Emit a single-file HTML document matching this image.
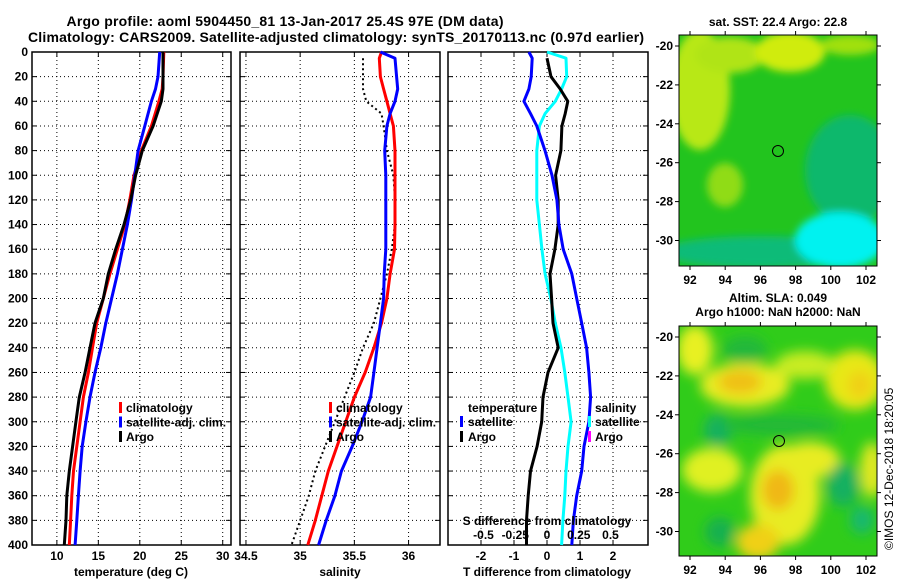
<!DOCTYPE html>
<html><head><meta charset="utf-8"><style>
body{margin:0;background:#fff;}
svg{display:block;font-family:"Liberation Sans",sans-serif;font-weight:bold;}
</style></head><body>
<svg id="c" width="900" height="580" viewBox="0 0 900 580">
<defs>
<filter id="bl" x="-50%" y="-50%" width="200%" height="200%"><feGaussianBlur stdDeviation="6"/></filter>
<filter id="bl2" x="-50%" y="-50%" width="200%" height="200%"><feGaussianBlur stdDeviation="4"/></filter>
<clipPath id="m1"><rect x="679" y="35" width="198" height="231"/></clipPath>
<clipPath id="m2"><rect x="679" y="326" width="198" height="230"/></clipPath>
</defs>
<text x="285" y="26" font-size="14" text-anchor="middle" textLength="437">Argo profile: aoml 5904450_81 13-Jan-2017 25.4S 97E (DM data)</text>
<text x="336" y="42" font-size="14" text-anchor="middle" textLength="616">Climatology: CARS2009. Satellite-adjusted climatology: synTS_20170113.nc (0.97d earlier)</text>

<g clip-path="url(#m1)">
<rect x="679" y="35" width="198" height="231" fill="#22c41e"/>
<g filter="url(#bl2)">
<ellipse cx="700" cy="90" rx="30" ry="60" fill="#b8e818"/>
<ellipse cx="730" cy="55" rx="35" ry="18" fill="#b0e418"/>
<ellipse cx="790" cy="52" rx="35" ry="20" fill="#d0ec10"/>
<ellipse cx="850" cy="45" rx="30" ry="10" fill="#a0e010"/>
<ellipse cx="725" cy="185" rx="18" ry="22" fill="#90dc18"/>
<ellipse cx="850" cy="170" rx="45" ry="55" fill="#10b86c"/>
<ellipse cx="760" cy="252" rx="100" ry="16" fill="#10bb78"/>
<ellipse cx="840" cy="240" rx="45" ry="28" fill="#00f2f0"/>
</g>
<circle cx="778" cy="151" r="5.5" fill="none" stroke="#000" stroke-width="1"/>
</g>
<rect x="679" y="35" width="198" height="231" fill="none" stroke="#000"/>
<text x="778" y="26" font-size="12" text-anchor="middle">sat. SST: 22.4 Argo: 22.8</text>
<text x="778" y="302" font-size="12" text-anchor="middle">Altim. SLA: 0.049</text>
<text x="778" y="316" font-size="12" text-anchor="middle">Argo h1000: NaN h2000: NaN</text>

<g clip-path="url(#m2)">
<rect x="679" y="326" width="198" height="230" fill="#30cc1a"/>
<g filter="url(#bl)">
<ellipse cx="695" cy="350" rx="18" ry="25" fill="#e8f020"/>
<ellipse cx="745" cy="385" rx="45" ry="22" fill="#e8ec20"/>
<ellipse cx="740" cy="382" rx="22" ry="12" fill="#f0c018"/>
<ellipse cx="855" cy="380" rx="30" ry="30" fill="#e8e818"/>
<ellipse cx="860" cy="385" rx="12" ry="14" fill="#f0d018"/>
<ellipse cx="805" cy="365" rx="30" ry="14" fill="#c8ec20"/>
<ellipse cx="785" cy="495" rx="35" ry="50" fill="#e8ec20"/>
<ellipse cx="778" cy="490" rx="16" ry="20" fill="#f0b818"/>
<ellipse cx="810" cy="460" rx="30" ry="18" fill="#e8ec20"/>
<ellipse cx="712" cy="470" rx="30" ry="22" fill="#e0f020"/>
<ellipse cx="758" cy="542" rx="22" ry="18" fill="#f0d018"/>
<ellipse cx="872" cy="470" rx="12" ry="28" fill="#e0e820"/>
<ellipse cx="718" cy="430" rx="14" ry="16" fill="#18b060"/>
<ellipse cx="843" cy="485" rx="16" ry="22" fill="#18b060"/>
<ellipse cx="862" cy="520" rx="12" ry="14" fill="#18b870"/>
<ellipse cx="720" cy="532" rx="15" ry="15" fill="#18b050"/>
<ellipse cx="745" cy="350" rx="22" ry="14" fill="#20b83a"/>
<ellipse cx="780" cy="425" rx="60" ry="10" fill="#22b838"/>
</g>
<circle cx="779" cy="441" r="5.5" fill="none" stroke="#000" stroke-width="1"/>
</g>
<rect x="679" y="326" width="198" height="230" fill="none" stroke="#000"/>
<text transform="translate(893,550) rotate(-90)" font-size="12" font-weight="normal">©IMOS 12-Dec-2018 18:20:05</text>
<g id="g"></g>
</svg>
<script>
// depths shared
const dT = [0,20,30,40,60,80,100,120,140,160,180,200,220,240,260,280,300,320,340,360,380,400];
const tempClim = [22.9,22.8,22.7,22.3,21.4,20.2,19.3,18.8,18.2,17.3,16.4,15.6,14.8,14.3,13.8,13.2,12.8,12.4,12.0,11.8,11.65,11.5];
const tempSat  = [22.4,22.2,21.9,21.4,20.6,19.8,19.4,19.0,18.5,17.9,17.3,16.6,15.9,15.3,14.6,14.0,13.5,13.05,12.8,12.6,12.4,12.2];
const tempArgo = [22.8,22.8,22.8,22.6,21.6,20.3,19.5,18.9,18.1,17.1,16.2,15.6,14.6,14.0,13.4,12.7,12.3,11.9,11.5,11.2,11.1,10.9];
const dS = [0,5,20,30,40,50,60,80,100,120,140,160,180,200,220,240,260,280,300,320,340,360,380,400];
const salClim = [35.75,35.73,35.74,35.77,35.8,35.83,35.86,35.875,35.875,35.875,35.875,35.87,35.83,35.8,35.75,35.68,35.6,35.5,35.42,35.34,35.26,35.2,35.14,35.07];
const salSat  = [35.74,35.875,35.89,35.9,35.875,35.83,35.8,35.78,35.79,35.79,35.79,35.79,35.775,35.77,35.74,35.71,35.68,35.65,35.57,35.48,35.38,35.32,35.24,35.17];
const salArgo = [null,35.58,35.58,35.58,35.61,35.75,35.77,35.8,35.86,35.875,35.875,35.845,35.8,35.74,35.68,35.58,35.5,35.41,35.32,35.23,35.14,35.08,35.0,34.92];
const dD = [0,5,20,30,40,50,60,80,100,120,140,160,180,200,220,240,260,280,300,320,340,360,380,400];
const tDiffArgo = [null,0,0.12,0.4,0.63,0.55,0.45,0.42,0.26,0.34,0.34,0.24,0.09,0.14,0.18,0.34,0.03,-0.12,-0.16,-0.3,-0.5,-0.57,-0.62,-0.62];
const tDiffSat = [-0.55,-0.45,-0.48,-0.55,-0.7,-0.5,-0.31,-0.06,0.15,0.3,0.36,0.49,0.75,0.9,1.05,1.2,1.27,1.32,1.27,1.12,1.05,0.9,0.8,0.75];
const sDiffSat = [0,0.15,0.155,0.115,0.065,-0.015,-0.06,-0.08,-0.08,-0.08,-0.06,-0.04,-0.015,0.03,0.065,0.11,0.14,0.165,0.19,0.165,0.15,0.14,0.125,0.115];
const depthTicks = [0,20,40,60,80,100,120,140,160,180,200,220,240,260,280,300,320,340,360,380,400];
const tTicks = [10,15,20,25,30];
const sTicks = [34.5,35,35.5,36];
const dTTicks = [-2,-1,0,1,2];
const dSTicks = [-0.5,-0.25,0,0.25,0.5];
const dSTickLabels = ['-0.5','-0.25','0','0.25','0.5'];

const NS='http://www.w3.org/2000/svg';
const G=document.getElementById('g');
function el(t,a,p){const e=document.createElementNS(NS,t);for(const k in a)e.setAttribute(k,a[k]);(p||G).appendChild(e);return e;}
const Y0=52,Y1=545;
const yD=d=>Y0+(Y1-Y0)*d/400;
const panels=[
 {x0:32,x1:231,v0:7,v1:31,name:'temperature-panel'},
 {x0:240,x1:440,v0:34.445,v1:36.29,name:'salinity-panel'},
 {x0:448,x1:648,v0:-3.0,v1:3.06,name:'difference-panel'}];
const sx=(p,v)=>p.x0+(v-p.v0)/(p.v1-p.v0)*(p.x1-p.x0);
const sxS=v=>547+v*127;

function frame(p,xt,labels,ylab){
 const g=el('g',{});
 
 
 depthTicks.forEach(d=>{
  const y=yD(d);
  el('line',{x1:p.x0,x2:p.x1,y1:y,y2:y,stroke:'#000','stroke-width':1,'stroke-dasharray':'1,3'},g);
  el('line',{x1:p.x0,x2:p.x0+5,y1:y,y2:y,stroke:'#000'},g);
  el('line',{x1:p.x1-5,x2:p.x1,y1:y,y2:y,stroke:'#000'},g);
  if(ylab){const t=el('text',{x:p.x0-4,y:y+4,'font-size':12,'text-anchor':'end'},g);t.textContent=d;
   
   }
 });
 xt.forEach((v,i)=>{
  const x=sx(p,v);
  el('line',{x1:x,x2:x,y1:Y0,y2:Y1,stroke:'#000','stroke-width':1,'stroke-dasharray':'1,3'},g);
  el('line',{x1:x,x2:x,y1:Y1-5,y2:Y1,stroke:'#000'},g);
  el('line',{x1:x,x2:x,y1:Y0,y2:Y0+5,stroke:'#000'},g);
  const t=el('text',{x:x,y:560,'font-size':12,'text-anchor':'middle'},g);t.textContent=labels[i];
  
  
 });
 el('rect',{x:p.x0,y:Y0,width:p.x1-p.x0,height:Y1-Y0,fill:'none',stroke:'#000','stroke-width':1.5},g);
 return g;
}
function line(ds,vs,fx,col,name,dash,w){
 let pts=[];ds.forEach((d,i)=>{if(vs[i]!==null)pts.push(fx(vs[i]).toFixed(1)+','+yD(d).toFixed(1));});
 const l=el('polyline',{points:pts.join(' '),fill:'none',stroke:col,'stroke-width':w||3,'stroke-linejoin':'round'});
 if(dash)l.setAttribute('stroke-dasharray',dash);
 
 
}
function txt(x,y,s,name,anchor,size){const t=el('text',{x:x,y:y,'font-size':size||12,'text-anchor':anchor||'start'});t.textContent=s;
 
 }
function bar(x,y,col,name){const r=el('rect',{x:x,y:y-10,width:3,height:11,fill:col});
 
 }

const P1=panels[0],P2=panels[1],P3=panels[2];
frame(P1,tTicks,tTicks.map(String),true);
frame(P2,sTicks,sTicks.map(String),false);
frame(P3,dTTicks,dTTicks.map(String),false);

line(dT,tempClim,v=>sx(P1,v),'#ff0000','temp-climatology-line');
line(dT,tempSat,v=>sx(P1,v),'#0000ff','temp-satellite-line');
line(dT,tempArgo,v=>sx(P1,v),'#000','temp-argo-line');
line(dS,salArgo,v=>sx(P2,v),'#000','sal-argo-line','2,3',2);
line(dS,salClim,v=>sx(P2,v),'#ff0000','sal-climatology-line');
line(dS,salSat,v=>sx(P2,v),'#0000ff','sal-satellite-line');
line(dD,sDiffSat,sxS,'#00ffff','sdiff-satellite-line');
line(dD,tDiffArgo,v=>sx(P3,v),'#000','tdiff-argo-line');
line(dD,tDiffSat,v=>sx(P3,v),'#0000ff','tdiff-satellite-line');

txt(131,576,'temperature (deg C)','x-axis-title-temperature','middle');
txt(340,576,'salinity','x-axis-title-salinity','middle');
txt(547,576,'T difference from climatology','x-axis-title-tdiff','middle');
txt(547,525,'S difference from climatology','sdiff-axis-title','middle');
dSTicks.forEach((v,i)=>txt(sxS(v),539,dSTickLabels[i],'sdiff-tick-label','middle'));

[[119,'#ff0000','climatology'],[119,'#0000ff','satellite-adj. clim.'],[119,'#000','Argo']].forEach((a,i)=>{bar(a[0],412+i*14.5,a[1],'legend-swatch');txt(126,412+i*14.5,a[2],'legend-entry');});
[[329,'#ff0000','climatology'],[329,'#0000ff','satellite-adj. clim.'],[329,'#000','Argo']].forEach((a,i)=>{bar(a[0],412+i*14.5,a[1],'legend-swatch');txt(336,412+i*14.5,a[2],'legend-entry');});
txt(468,412,'temperature','legend-heading-temperature');
bar(460,426,'#0000ff','legend-swatch');txt(468,426,'satellite','legend-entry');
bar(460,441,'#000','legend-swatch');txt(468,441,'Argo','legend-entry');
txt(595,412,'salinity','legend-heading-salinity');
bar(588,426,'#00ffff','legend-swatch');txt(595,426,'satellite','legend-entry');
bar(588,441,'#ff00ff','legend-swatch');txt(595,441,'Argo','legend-entry');

// map axes
const mx=[92,94,96,98,100,102];
const lat=[-20,-22,-24,-26,-28,-30];
const lonX=v=>690+(v-92)*17.6;
[[35,266,46],[326,556,337]].forEach((m,k)=>{
 mx.forEach(v=>{const x=lonX(v);el('line',{x1:x,x2:x,y1:m[1],y2:m[1]+4,stroke:'#000'});el('line',{x1:x,x2:x,y1:m[0]-4,y2:m[0],stroke:'#000'});
  txt(x,m[1]+18,String(v),'map-lon-label','middle');});
 lat.forEach((v,i)=>{const y=m[2]+i*38.9;el('line',{x1:675,x2:679,y1:y,y2:y,stroke:'#000'});el('line',{x1:877,x2:881,y1:y,y2:y,stroke:'#000'});
  txt(673,y+4,String(v),'map-lat-label','end');});
});
</script>
</body></html>
